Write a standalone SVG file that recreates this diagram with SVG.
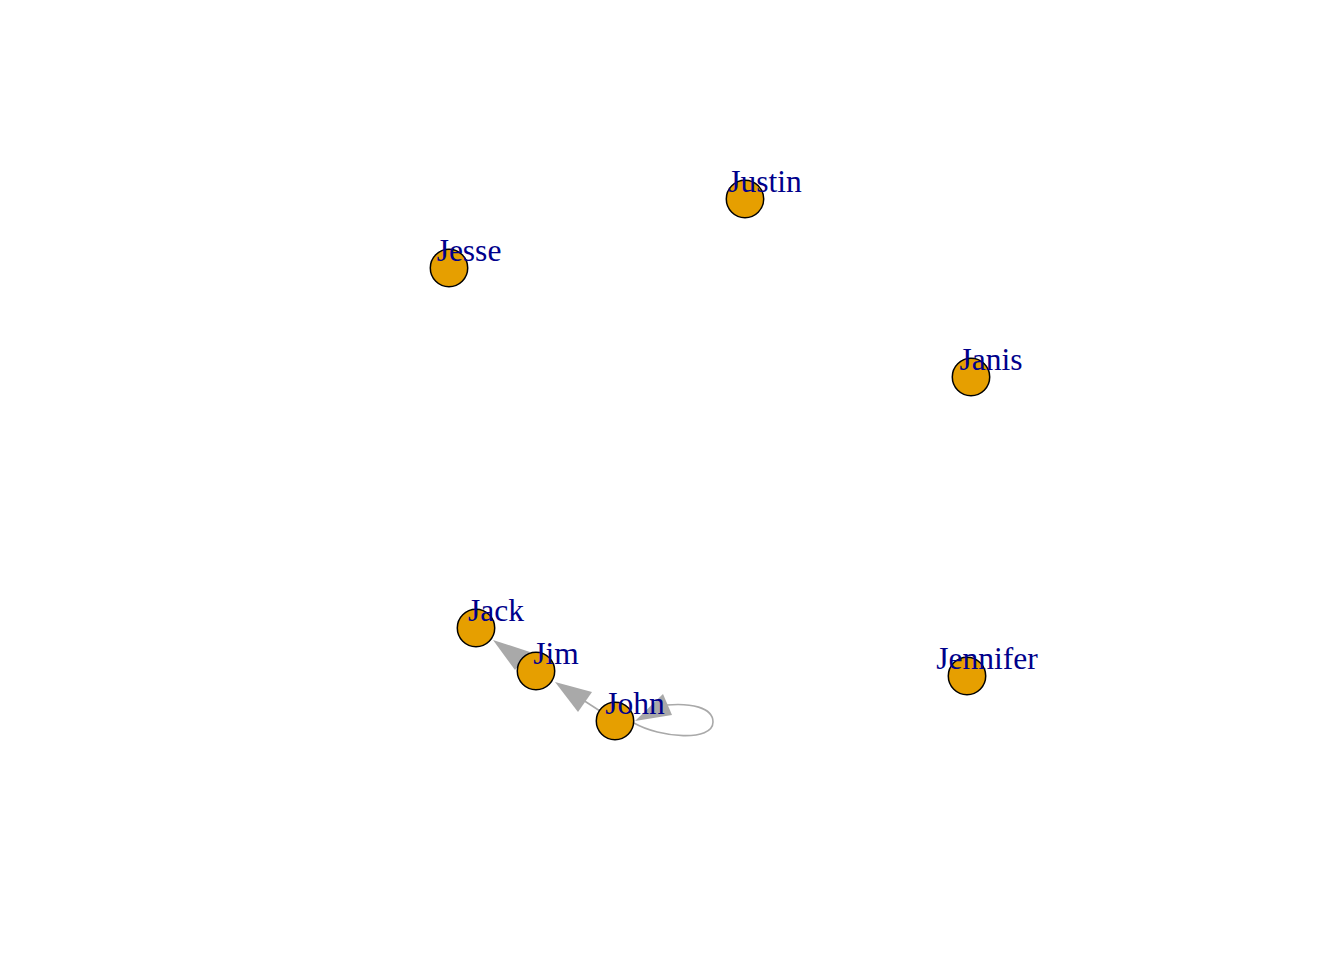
<svg xmlns="http://www.w3.org/2000/svg" width="1344" height="960" viewBox="0 0 1344 960">
<style>
.node{fill:#E69F00;stroke:#000;stroke-width:1.5}
.lbl{font-family:"Liberation Serif","Times New Roman",serif;font-size:31.5px;fill:#00008B;text-anchor:middle}
.edge{stroke:#A9A9A9;stroke-width:1.6;fill:none}
.head{fill:#A9A9A9;stroke:none}
</style>
<rect width="1344" height="960" fill="#fff"/>
<g id="edges">
<line class="edge" x1="536" y1="671" x2="520" y2="659"/>
<polygon class="head" points="493,640 530,652 515,670"/>
<line class="edge" x1="600" y1="711" x2="583" y2="700"/>
<polygon class="head" points="555,682 592,692 578,712"/>
<path class="edge" d="M 634,723 C 660,738 713,742 713,722 C 713,707 690,703 667,705"/>
<polygon class="head" points="635,721 663,694 672,715"/>
</g>
<g id="Jesse"><circle class="node" cx="449" cy="268" r="18.7"/><text class="lbl" x="469" y="260.5">Jesse</text></g>
<g id="Justin"><circle class="node" cx="745" cy="199" r="18.7"/><text class="lbl" x="765" y="191.5">Justin</text></g>
<g id="Janis"><circle class="node" cx="971" cy="377" r="18.7"/><text class="lbl" x="991" y="369.5">Janis</text></g>
<g id="Jennifer"><circle class="node" cx="967" cy="676" r="18.7"/><text class="lbl" x="987" y="668.5">Jennifer</text></g>
<g id="Jack"><circle class="node" cx="476" cy="628" r="18.7"/><text class="lbl" x="496" y="620.5">Jack</text></g>
<g id="Jim"><circle class="node" cx="536" cy="671" r="18.7"/><text class="lbl" x="556" y="663.5">Jim</text></g>
<g id="John"><circle class="node" cx="615" cy="721" r="18.7"/><text class="lbl" x="635" y="713.5">John</text></g>
</svg>
